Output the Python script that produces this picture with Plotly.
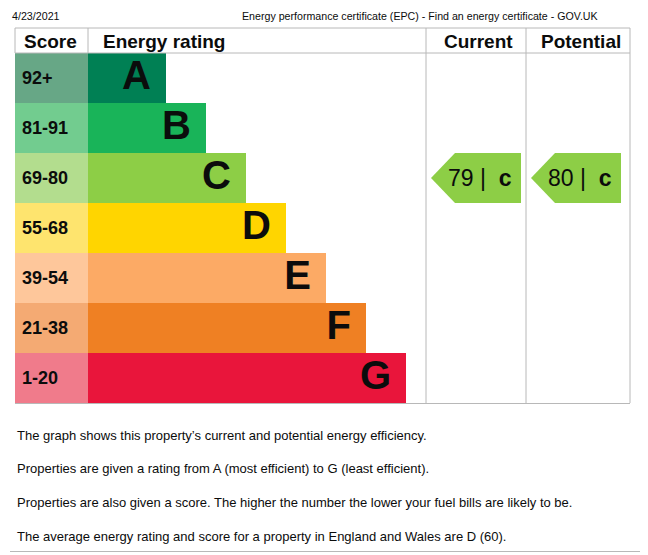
import plotly.graph_objects as go

# ---------------- data ----------------
bands = ["A", "B", "C", "D", "E", "F", "G"]
score_ranges = ["92+", "81-91", "69-80", "55-68", "39-54", "21-38", "1-20"]
band_min_score = [92, 81, 69, 55, 39, 21, 1]
current_score = 79
current_band = "c"
potential_score = 80
potential_band = "c"
column_titles = ["Score", "Energy rating", "Current", "Potential"]
date_text = "4/23/2021"
page_title = "Energy performance certificate (EPC) - Find an energy certificate - GOV.UK"
notes = [
    "The graph shows this property\u2019s current and potential energy efficiency.",
    "Properties are given a rating from A (most efficient) to G (least efficient).",
    "Properties are also given a score. The higher the number the lower your fuel bills are likely to be.",
    "The average energy rating and score for a property in England and Wales are D (60).",
]

# ---------------- styles ----------------
band_colors = ["#008054", "#19b459", "#8dce46", "#ffd500", "#fcaa65", "#ef8023", "#e9153b"]
score_colors = ["#67a786", "#72cc8f", "#b3dd8e", "#fee46e", "#fec79b", "#f4aa73", "#f07b8b"]
arrow_color = "#8dce46"
line_color = "#b8b8b8"
FONT = "Liberation Sans, Arial, sans-serif"
TXT = "#0b0c0c"

W, H = 648, 555
PAGE_MARGIN = 8  # browser default body margin
# geometry (pixels)
left, right = 15, 630
top, head_bot = 28, 53
row_h = 50
col_score_r = 88
col_cur_l, col_pot_l = 426, 526
bar_base_len, bar_step = 78, 40
n = len(bands)
bottom = head_bot + n * row_h
row_centers = [head_bot + row_h * (i + 0.5) for i in range(n)]

fig = go.Figure()

# score cells
fig.add_trace(go.Bar(
    orientation="h", y=row_centers, x=[col_score_r - left] * n, base=[left] * n,
    width=[row_h] * n, marker=dict(color=score_colors, line=dict(width=0)),
    hoverinfo="skip", showlegend=False))
# rating bars
bar_lens = [bar_base_len + bar_step * i for i in range(n)]
fig.add_trace(go.Bar(
    orientation="h", y=row_centers, x=bar_lens, base=[col_score_r] * n,
    width=[row_h] * n, marker=dict(color=band_colors, line=dict(width=0)),
    hoverinfo="skip", showlegend=False))

# letters
fig.add_trace(go.Scatter(
    x=[col_score_r + L - 15 for L in bar_lens], y=[c + 1 for c in row_centers],
    mode="text", text=bands, textposition="middle left",
    textfont=dict(family=FONT, size=40, color=TXT, weight="bold"),
    hoverinfo="skip", showlegend=False))
# score range labels
fig.add_trace(go.Scatter(
    x=[22] * n, y=[c + 1 for c in row_centers],
    mode="text", text=score_ranges, textposition="middle right",
    textfont=dict(family=FONT, size=18, color=TXT, weight="bold"),
    hoverinfo="skip", showlegend=False))


def band_index(score):
    for i, m in enumerate(band_min_score):
        if score >= m:
            return i
    return n - 1


def arrow(col_l, score, letter):
    i = band_index(score)
    yc = row_centers[i]
    y0, y1 = yc - row_h / 2, yc + row_h / 2
    tip = col_l + 5
    body = tip + 24
    end = col_l + 95
    fig.add_trace(go.Scatter(
        x=[tip, body, end, end, body, tip], y=[yc, y0, y0, y1, y1, yc],
        mode="lines", fill="toself", fillcolor=arrow_color,
        line=dict(width=0, color=arrow_color), hoverinfo="skip", showlegend=False))
    fig.add_annotation(x=(tip + end) / 2 + 4, y=yc, text=f"{score} |  <b>{letter}</b>",
                       showarrow=False, xanchor="center", yanchor="middle",
                       font=dict(family=FONT, size=23, color=TXT))


arrow(col_cur_l, current_score, current_band)
arrow(col_pot_l, potential_score, potential_band)

# grid lines
shapes = []
def hline(x0, x1, y):
    shapes.append(dict(type="line", x0=x0, x1=x1, y0=y, y1=y, line=dict(color=line_color, width=1)))
def vline(x, y0, y1):
    shapes.append(dict(type="line", x0=x, x1=x, y0=y0, y1=y1, line=dict(color=line_color, width=1)))

hline(left, right, top)
hline(left, right, head_bot)
hline(left, right, bottom + 0.5)
vline(left, top, head_bot)
vline(col_score_r, top, head_bot)
vline(col_cur_l, top, bottom)
vline(col_pot_l, top, bottom)
vline(right, top, bottom)
hline(PAGE_MARGIN + 2, W, 551.5)

# header titles
hy = (top + head_bot) / 2 + 1
head_pos = [(22, "left"), (101, "left"), ((col_cur_l + col_pot_l) / 2 + 2, "center"), ((col_pot_l + right) / 2 + 3, "center")]
for t, (x, anc) in zip(column_titles, head_pos):
    fig.add_annotation(x=x, y=hy, text=f"<b>{t}</b>", showarrow=False, xanchor=anc, yanchor="middle",
                       font=dict(family=FONT, size=19, color=TXT))

# page header
fig.add_annotation(x=10, y=16, text=date_text, showarrow=False, xanchor="left", yanchor="middle",
                   font=dict(family=FONT, size=10.7, color=TXT))
fig.add_annotation(x=420, y=16, text=page_title, showarrow=False, xanchor="center", yanchor="middle",
                   font=dict(family=FONT, size=10.65, color=TXT))

# notes
note_y = [435, 468, 502, 536]
for t, y in zip(notes, note_y):
    fig.add_annotation(x=15, y=y, text=t, showarrow=False, xanchor="left", yanchor="middle",
                       font=dict(family=FONT, size=13, color=TXT))

fig.update_layout(
    width=W - PAGE_MARGIN, height=H - PAGE_MARGIN, margin=dict(l=0, r=0, t=0, b=0),
    paper_bgcolor="white", plot_bgcolor="white",
    xaxis=dict(range=[PAGE_MARGIN, W], visible=False, fixedrange=True),
    yaxis=dict(range=[H, PAGE_MARGIN], visible=False, fixedrange=True),
    shapes=shapes, barmode="overlay", showlegend=False,
)

fig.write_html("out.html")
